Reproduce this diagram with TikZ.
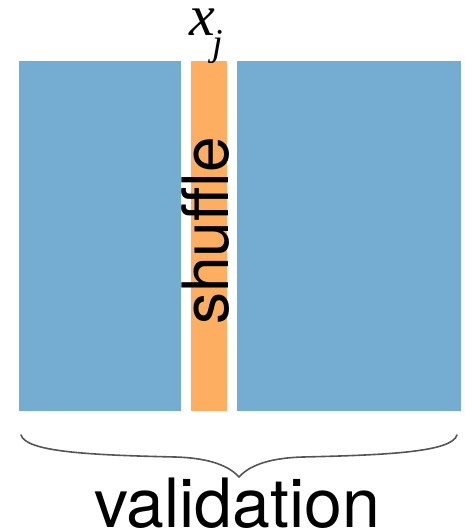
\documentclass[tikz,border=0pt]{standalone}
\usepackage{fontspec}
\setsansfont{TeX Gyre Heros}
\newfontfamily\timesit{Liberation Serif}
\definecolor{cblue}{RGB}{116,173,209}
\definecolor{corange}{RGB}{253,174,97}
\definecolor{cbrace}{RGB}{85,85,85}
\begin{document}
\begin{tikzpicture}[x=1pt,y=-1pt,
  blk/.style={fill=cblue,draw=none,inner sep=0pt,anchor=north west},
  org/.style={fill=corange,draw=none,inner sep=0pt,anchor=north west},
  bracepath/.style={draw=cbrace,line width=1.6pt,line cap=round}]
\useasboundingbox (0,0) rectangle (465,531);
\node[blk,minimum width=162pt,minimum height=350pt] (left) at (19,61) {};
\node[org,minimum width=36pt,minimum height=350pt] (mid) at (191,61) {};
\node[blk,minimum width=224pt,minimum height=350pt] (right) at (237,61) {};
\node[rotate=90,font=\sffamily\fontsize{64}{64}\selectfont,inner sep=0pt,anchor=base] (shuf) at (228.5,231) {shuffle};
\node[font=\timesit\itshape\fontsize{58}{60}\selectfont,inner sep=0pt,anchor=base west] (xv) at (189,35) {x};
\node[font=\timesit\itshape\fontsize{38}{40}\selectfont,inner sep=0pt,anchor=base west] (jv) at (212,55) {j};
\coordinate (bl) at (21,435);
\coordinate (bt) at (239,477);
\coordinate (br) at (457,435);
\draw[bracepath] (bl) .. controls (26,452) and (90,455) .. (175,457)
  .. controls (212,458) and (230,467) .. (bt)
  .. controls (248,467) and (266,458) .. (303,457)
  .. controls (388,455) and (452,452) .. (br);
\node[font=\sffamily\fontsize{68}{68}\selectfont,inner sep=0pt,anchor=base] (val) at (237,527) {validation};
\end{tikzpicture}
\end{document}
